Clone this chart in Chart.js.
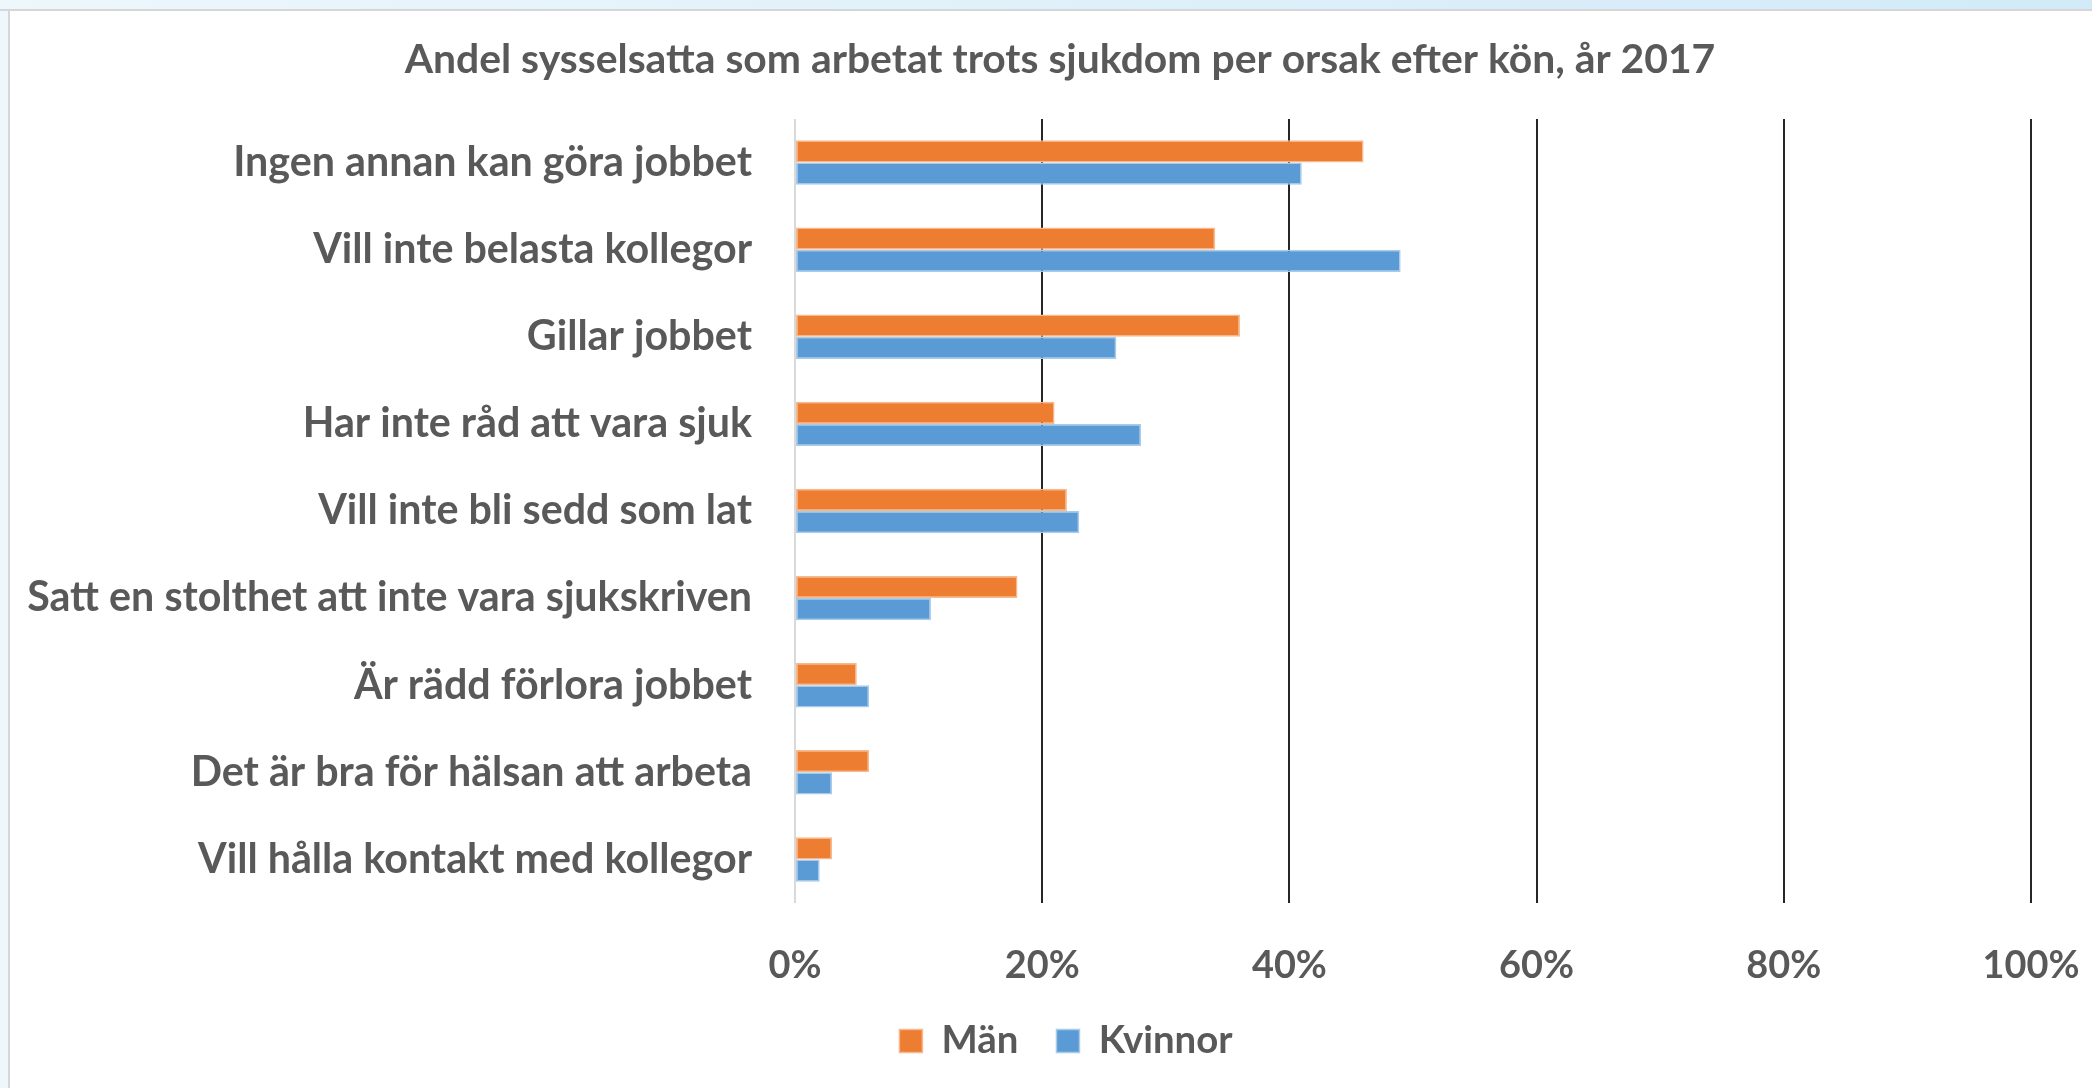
<!DOCTYPE html>
<html>
<head>
<meta charset="utf-8">
<script src="https://cdn.jsdelivr.net/npm/chart.js@4"></script>
<style>
  html, body { margin: 0; padding: 0; background: #ffffff; overflow: hidden; }
  #topStrip { position: absolute; left: 0; top: 0; width: 2092px; height: 9px;
    background: linear-gradient(to right, #edf7fc, #d2eaf8); border-bottom: 2px solid #d6d6d6; }
  #leftStrip { position: absolute; left: 0; top: 11px; width: 8px; height: 1077px;
    background: #eef7fc; border-right: 2px solid #d6d6d6; }
  #chart { position: absolute; left: 0; top: 0; }
</style>
</head>
<body>
<div id="topStrip"></div>
<div id="leftStrip"></div>
<canvas id="chart" width="2092" height="1088"></canvas>
<script>
// Kategorier (uppifrån och ned)
const orsaker = [
    'Ingen annan kan göra jobbet',
    'Vill inte belasta kollegor',
    'Gillar jobbet',
    'Har inte råd att vara sjuk',
    'Vill inte bli sedd som lat',
    'Satt en stolthet att inte vara sjukskriven',
    'Är rädd förlora jobbet',
    'Det är bra för hälsan att arbeta',
    'Vill hålla kontakt med kollegor'
];

// Andel i procent
const man = [46, 34, 36, 21, 22, 18, 5, 6, 3];
const kvinnor = [41, 49, 26, 28, 23, 11, 6, 3, 2];

const tickSteg = 20;
const xMax = 100;

const titel = 'Andel sysselsatta som arbetat trots sjukdom per orsak efter kön, år 2017';
const textFarg = '#595959';
const fontNamn = 'Lato, "Open Sans", sans-serif';

// Räkna fram en fontstorlek så att texten får ungefär given bredd
const fitSize = (text, target) => {
    const c = document.createElement('canvas').getContext('2d');
    c.font = 'bold 100px ' + fontNamn;
    return 100 * target / c.measureText(text).width;
};

// Titel och förklaring centreras som i originalet (inte över hela bredden)
const centrering = {
    id: 'centrering',
    afterLayout: chart => {
        if (chart.titleBlock) {
            chart.titleBlock.left = 89;
            chart.titleBlock.right = 2031;
        }
        if (chart.legend) {
            chart.legend.left = 101;
            chart.legend.right = 2031;
        }
    }
};

const ritaDiagram = () => {
    const titelSize = fitSize(titel, 1311);
    const etikettSize = fitSize('Satt en stolthet att inte vara sjukskriven', 725);
    const tickSize = fitSize('100%', 97);
    const legendSize = fitSize('Kvinnor', 134);

    const legendPad = 38;
    const legendTop = 1041 - legendPad - legendSize / 2;
    const legendHeight = legendSize + legendPad + 10;

    const ctx = document.getElementById('chart').getContext('2d');
    new Chart(ctx, {
        type: 'bar',
        data: {
            labels: orsaker,
            datasets: [{
                label: 'Män',
                data: man,
                backgroundColor: '#ED7D31',
                borderColor: '#F7B88E',
                borderWidth: 1.5,
                borderSkipped: false
            }, {
                label: 'Kvinnor',
                data: kvinnor,
                backgroundColor: '#5B9BD5',
                borderColor: '#A9CBEA',
                borderWidth: 1.5,
                borderSkipped: false
            }]
        },
        options: {
            indexAxis: 'y',
            responsive: false,
            animation: false,
            layout: {
                padding: { left: 0, right: 61, top: 0, bottom: 1088 - legendTop - legendHeight }
            },
            datasets: {
                bar: { categoryPercentage: 0.51, barPercentage: 1.0 }
            },
            scales: {
                x: {
                    min: 0,
                    max: xMax,
                    border: { display: false },
                    grid: {
                        drawTicks: false,
                        color: c => c.index === 0 ? '#d9d9d9' : '#262626',
                        lineWidth: 2
                    },
                    ticks: {
                        stepSize: tickSteg,
                        padding: 966 - 903 - tickSize * 0.6,
                        color: textFarg,
                        font: { family: fontNamn, weight: 'bold', size: tickSize },
                        callback: v => v + '%'
                    },
                    afterFit: scale => {
                        scale.height = legendTop - 903;
                        scale.paddingLeft = 0;
                        scale.paddingRight = 0;
                    }
                },
                y: {
                    border: { display: false },
                    grid: { display: false, drawTicks: false },
                    ticks: {
                        padding: 43,
                        color: textFarg,
                        font: { family: fontNamn, weight: 'bold', size: etikettSize }
                    },
                    afterFit: scale => { scale.width = 795; }
                }
            },
            plugins: {
                title: {
                    display: true,
                    text: titel,
                    color: textFarg,
                    font: { family: fontNamn, weight: 'bold', size: titelSize },
                    padding: { top: 60 - titelSize * 0.6, bottom: 59 - titelSize * 0.6 }
                },
                legend: {
                    position: 'bottom',
                    labels: {
                        boxWidth: 23,
                        boxHeight: 23,
                        padding: legendPad,
                        color: textFarg,
                        font: { family: fontNamn, weight: 'bold', size: legendSize }
                    }
                },
                tooltip: { enabled: false }
            }
        },
        plugins: [centrering]
    });
};

document.fonts.load('bold 40px Lato').then(ritaDiagram, ritaDiagram);
</script>
</body>
</html>
